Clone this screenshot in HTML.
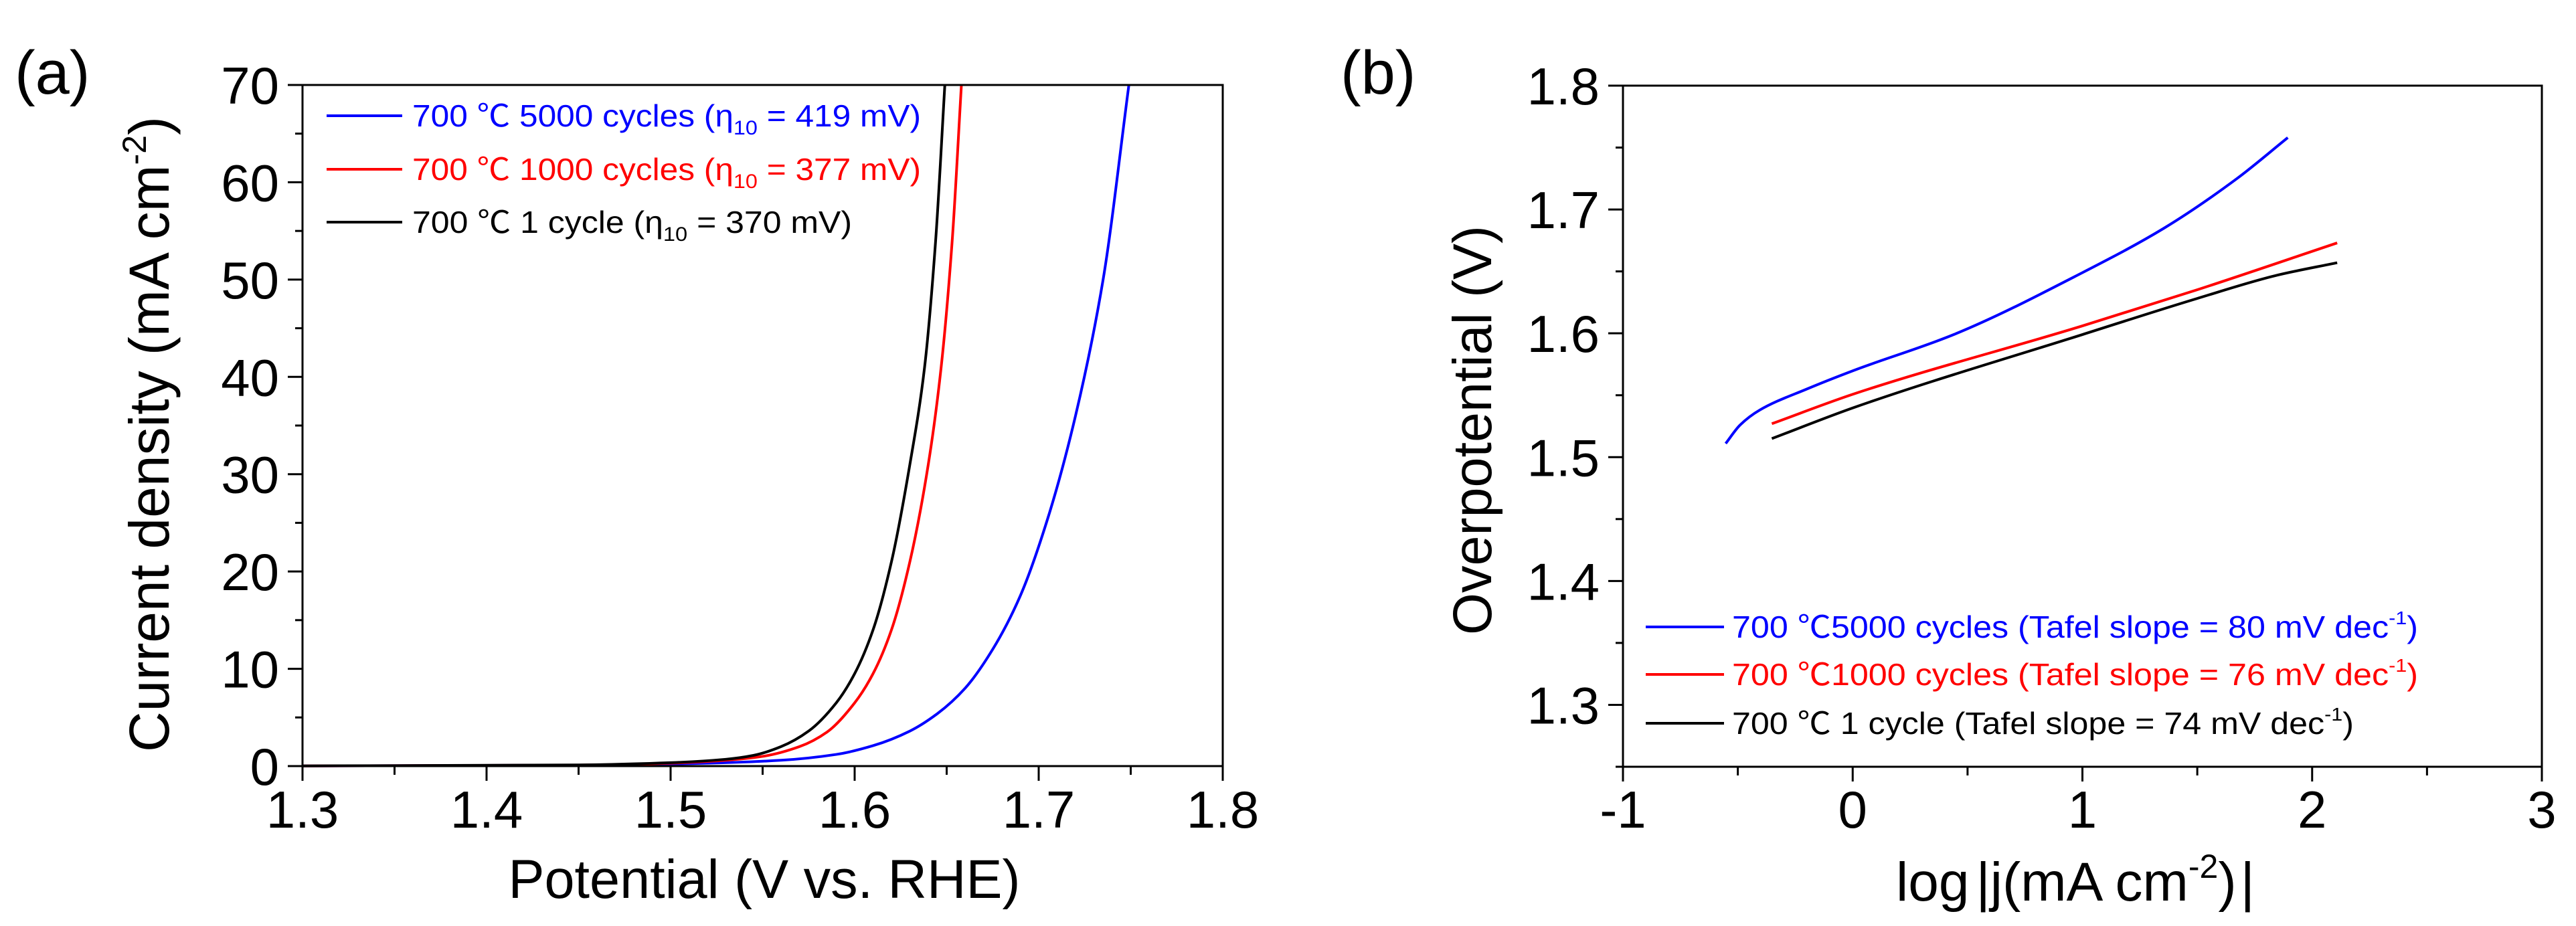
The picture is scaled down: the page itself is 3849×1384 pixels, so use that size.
<!DOCTYPE html>
<html><head><meta charset="utf-8"><style>
html,body{margin:0;padding:0;background:#fff;}
svg{display:block;font-family:"Liberation Sans","Noto Sans CJK SC",sans-serif;}
</style></head><body>
<svg id="fig" width="3849" height="1384" viewBox="0 0 3849 1384" xmlns="http://www.w3.org/2000/svg">
<rect width="3849" height="1384" fill="#fff"/>
<text x="22" y="140" font-size="92">(a)</text>
<text x="2003" y="140" font-size="92">(b)</text>
<g id="pa"></g>
<g id="pb"></g>
<text x="1142" y="1342" font-size="82" text-anchor="middle" textLength="765" lengthAdjust="spacingAndGlyphs">Potential (V vs. RHE)</text>
<text transform="translate(252,649) rotate(-90)" font-size="84" text-anchor="middle"><tspan>Current density (mA cm</tspan><tspan font-size="50" dy="-34">-2</tspan><tspan dy="34">)</tspan></text>
<text transform="translate(2228,643) rotate(-90)" font-size="82" text-anchor="middle" textLength="612" lengthAdjust="spacingAndGlyphs">Overpotential (V)</text>
<text x="2833" y="1346" font-size="82"><tspan>log</tspan><tspan dx="10">|</tspan><tspan>j(mA cm</tspan><tspan font-size="50" dy="-34">-2</tspan><tspan dy="34">)</tspan><tspan dx="6">|</tspan></text>
<g font-size="46">
<line x1="488" y1="173" x2="601" y2="173" stroke="#0000ff" stroke-width="4"/>
<text x="616" y="189" fill="#0000ff" textLength="760" lengthAdjust="spacingAndGlyphs">700 ℃ 5000 cycles (η<tspan font-size="30" dy="12">10</tspan><tspan dy="-12"> = 419 mV)</tspan></text>
<line x1="488" y1="253" x2="601" y2="253" stroke="#ff0000" stroke-width="4"/>
<text x="616" y="269" fill="#ff0000" textLength="760" lengthAdjust="spacingAndGlyphs">700 ℃ 1000 cycles (η<tspan font-size="30" dy="12">10</tspan><tspan dy="-12"> = 377 mV)</tspan></text>
<line x1="488" y1="332" x2="601" y2="332" stroke="#000" stroke-width="4"/>
<text x="616" y="348" fill="#000" textLength="657" lengthAdjust="spacingAndGlyphs">700 ℃ 1 cycle (η<tspan font-size="30" dy="12">10</tspan><tspan dy="-12"> = 370 mV)</tspan></text>
</g>
<g font-size="46">
<line x1="2459" y1="937" x2="2576" y2="937" stroke="#0000ff" stroke-width="4"/>
<text x="2588" y="953" fill="#0000ff" textLength="1025" lengthAdjust="spacingAndGlyphs">700 ℃5000 cycles (Tafel slope = 80 mV dec<tspan font-size="28" dy="-20">-1</tspan><tspan dy="20">)</tspan></text>
<line x1="2459" y1="1008" x2="2576" y2="1008" stroke="#ff0000" stroke-width="4"/>
<text x="2588" y="1024" fill="#ff0000" textLength="1025" lengthAdjust="spacingAndGlyphs">700 ℃1000 cycles (Tafel slope = 76 mV dec<tspan font-size="28" dy="-20">-1</tspan><tspan dy="20">)</tspan></text>
<line x1="2459" y1="1081" x2="2576" y2="1081" stroke="#000" stroke-width="4"/>
<text x="2588" y="1097" fill="#000" textLength="929" lengthAdjust="spacingAndGlyphs">700 ℃ 1 cycle (Tafel slope = 74 mV dec<tspan font-size="28" dy="-20">-1</tspan><tspan dy="20">)</tspan></text>
</g>
</svg>
<script>
// ---- Panel (a) data: LSV ----
const aBlueX = [1.30,1.45,1.52,1.56,1.59,1.61,1.63,1.645,1.66,1.675,1.69,1.705,1.72,1.735,1.749];
const aBlueY = [0.02,0.1,0.3,0.6,1.2,2.1,3.6,5.4,8.0,12.0,17.5,25.5,36,50,70];
const aRedX = [1.30,1.45,1.50,1.53,1.55,1.57,1.585,1.60,1.61,1.62,1.63,1.64,1.647,1.653,1.658];
const aRedY = [0.02,0.1,0.3,0.6,1.0,2.0,3.5,6.5,9.5,14,21,31,41,54,70];
const aBlackX = [1.30,1.45,1.50,1.53,1.545,1.56,1.575,1.59,1.60,1.61,1.62,1.63,1.638,1.644,1.649];
const aBlackY = [0.02,0.12,0.35,0.7,1.1,2.0,3.6,6.5,9.5,14,21,31,41,54,70];
const aXTicks = ["1.3","1.4","1.5","1.6","1.7","1.8"];
const aYTicks = ["0","10","20","30","40","50","60","70"];
// ---- Panel (b) data: Tafel ----
const bBlueX = [-0.553,-0.49,-0.405,-0.2,0.004,0.44,1.0,1.356,1.673,1.894];
const bBlueY = [1.511,1.526,1.538,1.555,1.570,1.599,1.649,1.685,1.725,1.758];
const bRedX = [-0.352,0.004,1.0,1.497,2.109];
const bRedY = [1.527,1.551,1.606,1.635,1.673];
const bBlackX = [-0.352,0.004,1.0,1.497,1.849,2.109];
const bBlackY = [1.515,1.540,1.599,1.628,1.647,1.657];
const bXTicks = ["-1","0","1","2","3"];
const bYTicks = ["1.3","1.4","1.5","1.6","1.7","1.8"];

const NS="http://www.w3.org/2000/svg";
function mk(tag,attrs,parent){const e=document.createElementNS(NS,tag);for(const k in attrs)e.setAttribute(k,attrs[k]);parent.appendChild(e);return e;}
function monotone(pts){
  const n=pts.length; if(n<2)return "";
  const dx=[],dy=[],m=[];
  for(let i=0;i<n-1;i++){dx.push(pts[i+1][0]-pts[i][0]);dy.push(pts[i+1][1]-pts[i][1]);m.push(dy[i]/dx[i]);}
  const t=[m[0]];
  for(let i=1;i<n-1;i++){ if(m[i-1]*m[i]<=0)t.push(0); else t.push(3*(dx[i-1]+dx[i])/((2*dx[i]+dx[i-1])/m[i-1]+(dx[i]+2*dx[i-1])/m[i])); }
  t.push(m[n-2]);
  let d="M"+pts[0][0]+","+pts[0][1];
  for(let i=0;i<n-1;i++){
    const h=dx[i]/3;
    d+="C"+(pts[i][0]+h)+","+(pts[i][1]+h*t[i])+" "+(pts[i+1][0]-h)+","+(pts[i+1][1]-h*t[i+1])+" "+pts[i+1][0]+","+pts[i+1][1];
  }
  return d;
}
function panel(g,cfg){
  const {L,R,T,B,x0,x1,y0,y1}=cfg;
  const sx=v=>L+(v-x0)/(x1-x0)*(R-L);
  const sy=v=>B-(v-y0)/(y1-y0)*(B-T);
  cfg.series.forEach(s=>{
    const pts=s.x.map((v,i)=>[sx(v),sy(s.y[i])]);
    const p=mk("path",{d:monotone(pts),fill:"none",stroke:s.c,"stroke-width":4,"stroke-linejoin":"round"},g);
    
    
  });
  const f=mk("rect",{x:L,y:T,width:R-L,height:B-T,fill:"none",stroke:"#000","stroke-width":3},g);
  
  
  cfg.xt.forEach((t,i)=>{
    const v=parseFloat(t), X=sx(v);
    mk("line",{x1:X,y1:B,x2:X,y2:B+22,stroke:"#000","stroke-width":3},g);
    const tx=mk("text",{x:X,y:1237,"font-size":78,"text-anchor":"middle"},g);
    tx.textContent=t;
    
    
    if(i<cfg.xt.length-1){const m=sx(v+cfg.xm);mk("line",{x1:m,y1:B,x2:m,y2:B+13,stroke:"#000","stroke-width":3},g);}
  });
  cfg.yt.forEach((t,i)=>{
    const v=parseFloat(t), Y=sy(v);
    mk("line",{x1:L-22,y1:Y,x2:L,y2:Y,stroke:"#000","stroke-width":3},g);
    const ty=mk("text",{x:L-35,y:Y+28,"font-size":78,"text-anchor":"end"},g);
    ty.textContent=t;
    
    
    const m=sy(v+cfg.ym); if(m>=T-1&&m<=B+1)mk("line",{x1:L-11,y1:m,x2:L,y2:m,stroke:"#000","stroke-width":3},g);
    const m2=sy(v-cfg.ym); if(i===0&&m2<=B+1)mk("line",{x1:L-11,y1:m2,x2:L,y2:m2,stroke:"#000","stroke-width":3},g);
  });
}
panel(document.getElementById("pa"),{L:452,R:1827,T:127,B:1145,x0:1.3,x1:1.8,y0:0,y1:70,xm:0.05,ym:5,
  xt:aXTicks,yt:aYTicks,series:[
  {x:aBlueX,y:aBlueY,c:"#0000ff",n:"curve-5000-cycles"},
  {x:aRedX,y:aRedY,c:"#ff0000",n:"curve-1000-cycles"},
  {x:aBlackX,y:aBlackY,c:"#000000",n:"curve-1-cycle"}]});
panel(document.getElementById("pb"),{L:2425,R:3798,T:128,B:1146,x0:-1,x1:3,y0:1.25,y1:1.8,xm:0.5,ym:0.05,
  xt:bXTicks,yt:bYTicks,series:[
  {x:bBlueX,y:bBlueY,c:"#0000ff",n:"tafel-5000-cycles"},
  {x:bRedX,y:bRedY,c:"#ff0000",n:"tafel-1000-cycles"},
  {x:bBlackX,y:bBlackY,c:"#000000",n:"tafel-1-cycle"}]});
</script>
</body></html>
